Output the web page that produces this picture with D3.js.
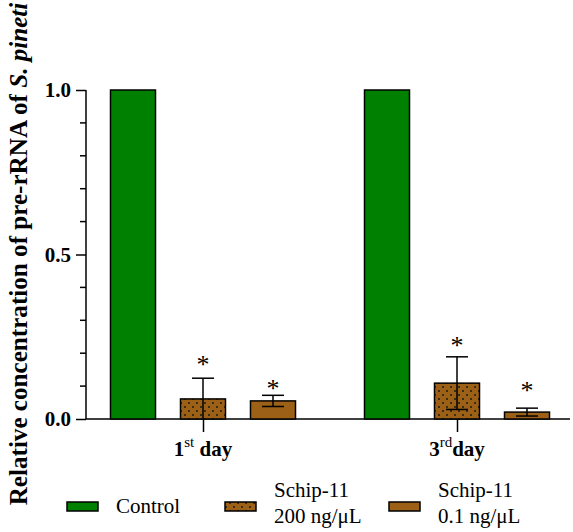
<!DOCTYPE html>
<html>
<head>
<meta charset="utf-8">
<script src="https://cdn.jsdelivr.net/npm/d3@7"></script>
<style>
  body { margin: 0; background: #fff; }
  text { font-family: "Liberation Serif"; }
</style>
</head>
<body>
<div class="chart"></div>
<script>
var days = ["1st", "3rd"];
var groups = ["Control", "Schip200", "Schip01"];
var means = [[1.0, 0.061, 0.055], [1.0, 0.109, 0.021]];
var errs = [[0, 0.063, 0.017], [0, 0.080, 0.012]];
// height of the significance stars, in axis units (null = no star)
var starAt = [[null, 0.182, 0.109], [null, 0.240, 0.103]];
var yTicks = [0, 0.5, 1.0];
var yMinor = [0.1, 0.2, 0.3, 0.4, 0.6, 0.7, 0.8, 0.9];

var svgWidth = 573;
var svgHeight = 532;

var svg = d3.select(".chart")
  .append("svg")
  .attr("width", svgWidth)
  .attr("height", svgHeight)
  .attr("font-family", "Liberation Serif");

// dotted fill for the 200 ng/uL bars
var pat = svg.append("defs").append("pattern")
  .attr("id", "dots")
  .attr("patternUnits", "userSpaceOnUse")
  .attr("width", 8)
  .attr("height", 8);
pat.append("rect").attr("width", 8).attr("height", 8).attr("fill", "#9c6116");
pat.append("circle").attr("cx", 2).attr("cy", 3).attr("r", 0.9).attr("fill", "#111");
pat.append("circle").attr("cx", 6).attr("cy", 7).attr("r", 0.9).attr("fill", "#111");

var fills = { Control: "#008000", Schip200: "url(#dots)", Schip01: "#9c6116" };

var y = d3.scaleLinear().domain([0, 1]).range([419, 90]);
var x0 = d3.scalePoint().domain(days).range([203, 457]);
var x1 = d3.scaleBand().domain(groups).range([-92.5, 92.5]).paddingInner(25 / 70).paddingOuter(0);

// y axis
var yAxis = d3.axisLeft(y).tickValues(yTicks).tickFormat(d3.format(".1f")).tickSize(10).tickPadding(5);
var yG = svg.append("g").attr("transform", "translate(86,0)").call(yAxis);
yG.attr("font-family", "Liberation Serif");
yG.select(".domain").attr("stroke", "#000").attr("stroke-width", 1.5).attr("d", "M0,90V419");
yG.selectAll(".tick line").attr("stroke-width", 1.5);
yG.selectAll(".tick text")
  .attr("font-size", 21).attr("font-weight", "bold").attr("fill", "#000");
yG.selectAll(".minor")
  .data(yMinor)
  .enter().append("line")
  .attr("x1", -6).attr("x2", 0)
  .attr("y1", function(d) { return y(d); }).attr("y2", function(d) { return y(d); })
  .attr("stroke", "#000").attr("stroke-width", 1.5);

// x axis
var xAxis = d3.axisBottom(x0).tickSize(13).tickFormat("");
var xG = svg.append("g").attr("transform", "translate(0,419)").call(xAxis);
xG.select(".domain").attr("stroke-width", 1.5).attr("d", "M86,0H570");
xG.selectAll(".tick line").attr("stroke-width", 1.5);

// bars, error bars, stars
days.forEach(function(day, i) {
  var g = svg.append("g").attr("transform", "translate(" + x0(day) + ",0)");
  groups.forEach(function(grp, j) {
    var bx = x1(grp);
    var cx = bx + x1.bandwidth() / 2;
    g.append("rect")
      .attr("x", bx).attr("y", y(means[i][j]))
      .attr("width", x1.bandwidth()).attr("height", y(0) - y(means[i][j]))
      .attr("fill", fills[grp]).attr("stroke", "#000").attr("stroke-width", 1.5);
    if (errs[i][j] > 0) {
      var hi = means[i][j] + errs[i][j];
      var lo = Math.max(0, means[i][j] - errs[i][j]);
      g.append("line").attr("x1", cx).attr("x2", cx)
        .attr("y1", y(hi)).attr("y2", y(lo))
        .attr("stroke", "#000").attr("stroke-width", 1.5);
      g.append("line").attr("x1", cx - 11).attr("x2", cx + 11)
        .attr("y1", y(hi)).attr("y2", y(hi))
        .attr("stroke", "#000").attr("stroke-width", 1.5);
      if (means[i][j] - errs[i][j] > 0) {
        g.append("line").attr("x1", cx - 11).attr("x2", cx + 11)
          .attr("y1", y(lo)).attr("y2", y(lo))
          .attr("stroke", "#000").attr("stroke-width", 1.5);
      }
    }
    if (starAt[i][j] !== null) {
      g.append("text")
        .attr("x", cx).attr("y", y(starAt[i][j]) + 14)
        .attr("text-anchor", "middle").attr("font-size", 26)
        .text("*");
    }
  });
});

// day labels
days.forEach(function(day) {
  var t = svg.append("text")
    .attr("x", x0(day)).attr("y", 456)
    .attr("text-anchor", "middle")
    .attr("font-size", 21).attr("font-weight", "bold");
  t.append("tspan").text(day.slice(0, 1));
  t.append("tspan").attr("dy", -9).attr("font-size", 15).attr("font-weight", "normal").text(day.slice(1));
  t.append("tspan").attr("dy", 9).text(day === "1st" ? " day" : "day");
});

// y label
var yl = svg.append("text")
  .attr("transform", "translate(27,254) rotate(-90)")
  .attr("text-anchor", "middle")
  .attr("font-size", 20).attr("font-weight", "bold");
yl.append("tspan").text("Relative concentration of pre-rRNA of ");
yl.append("tspan").attr("font-style", "italic").text("S. pineti");
var len = yl.node().getComputedTextLength();
yl.attr("font-size", 20 * 503 / len);

// legend
var legend = [
  { key: "Control", x: 67, lines: ["Control"] },
  { key: "Schip200", x: 225, lines: ["Schip-11", "200 ng/\u03bcL"] },
  { key: "Schip01", x: 389, lines: ["Schip-11", "0.1 ng/\u03bcL"] }
];
legend.forEach(function(d) {
  svg.append("rect")
    .attr("x", d.x).attr("y", 502).attr("width", 31).attr("height", 9)
    .attr("fill", fills[d.key]).attr("stroke", "#000").attr("stroke-width", 1.5);
  var t = svg.append("text").attr("x", d.x + 49).attr("font-size", 21);
  if (d.lines.length === 1) {
    t.attr("y", 513).text(d.lines[0]);
  } else {
    t.attr("y", 497).text(d.lines[0]);
    svg.append("text").attr("x", d.x + 49).attr("y", 523).attr("font-size", 21).text(d.lines[1]);
  }
});

svg.selectAll("text").style("font-family", "'Liberation Serif'");
</script>
</body>
</html>
